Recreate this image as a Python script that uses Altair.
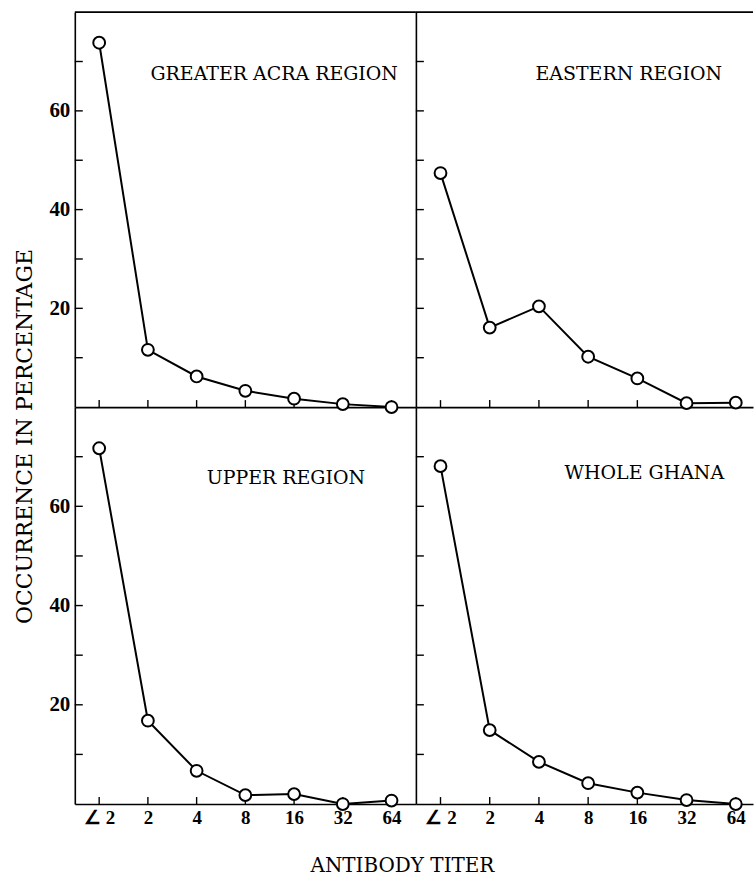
import json
import altair as alt
import pandas as pd

# ---- data ----
TITERS = ["∠ 2", "2", "4", "8", "16", "32", "64"]
REGIONS = ["GREATER ACRA REGION", "EASTERN REGION", "UPPER REGION", "WHOLE GHANA"]
GREATER_ACRA = [73.8, 11.6, 6.2, 3.3, 1.7, 0.6, 0.0]
EASTERN = [47.4, 16.1, 20.4, 10.2, 5.8, 0.8, 0.9]
UPPER = [71.7, 16.8, 6.7, 1.8, 2.0, 0.0, 0.7]
WHOLE_GHANA = [68.1, 14.9, 8.5, 4.2, 2.3, 0.8, 0.0]
Y_TICKS = [10, 20, 30, 40, 50, 60, 70]
Y_LABELED = [20, 40, 60]
Y_TITLE = "OCCURRENCE  IN  PERCENTAGE"
X_TITLE = "ANTIBODY  TITER"

SERIF = "DejaVu Serif"
LABEL_FONT = "Liberation Serif"
LW = 1.6

label_expr = json.dumps(TITERS, ensure_ascii=False) + "[datum.value]"


def panel(values, title, width, height, xmax, left, bottom, title_x, title_y, top_rule):
    df = pd.DataFrame({"i": list(range(len(TITERS))), "v": values})
    xscale = alt.Scale(domain=[-0.5, xmax], nice=False, zero=False)
    yscale = alt.Scale(domain=[0, 80], nice=False, zero=False)

    xkw = dict(ticks=False, grid=False, domain=True, domainColor="black",
               domainWidth=LW, values=list(range(len(TITERS))))
    if bottom:
        xkw.update(labels=True, labelExpr=label_expr, labelFont=LABEL_FONT,
                   labelFontSize=19, labelFontWeight="bold", labelColor="black",
                   labelPadding=5, labelAngle=0)
        if left:
            xkw.update(title=X_TITLE, titleX=328, titleY=62, titleAlign="center",
                       titleBaseline="middle", titleFont=SERIF, titleFontSize=20,
                       titleFontWeight="normal", titleColor="black")
        else:
            xkw.update(title=None)
    else:
        xkw.update(labels=False, title=None)
    xaxis = alt.Axis(**xkw)

    ykw = dict(ticks=False, grid=False, domain=True, domainColor="black",
               domainWidth=LW, values=Y_LABELED)
    if left:
        ykw.update(labels=True, labelFont=LABEL_FONT, labelFontSize=21,
                   labelFontWeight="bold", labelColor="black", labelPadding=5)
        if bottom:
            ykw.update(title=Y_TITLE, titleX=-50, titleY=29, titleAngle=270,
                       titleAlign="center", titleBaseline="middle", titleFont=SERIF,
                       titleFontSize=22, titleFontWeight="normal", titleColor="black")
        else:
            ykw.update(title=None)
    else:
        ykw.update(labels=False, title=None)
    yaxis = alt.Axis(**ykw)

    X = alt.X("i:Q", scale=xscale, axis=xaxis)
    Y = alt.Y("v:Q", scale=yscale, axis=yaxis)

    base = alt.Chart(df)
    line = base.mark_line(color="black", strokeWidth=2).encode(x=X, y=Y)
    pts = base.mark_point(shape="circle", filled=True, fill="white", stroke="black",
                          strokeWidth=2, size=140, opacity=1).encode(x=X, y=Y)

    yt = alt.Chart(pd.DataFrame({"v": Y_TICKS})).mark_rule(
        color="black", strokeWidth=1.4).encode(y=Y, x=alt.value(0), x2=alt.value(8))
    xt = alt.Chart(pd.DataFrame({"i": list(range(len(TITERS)))})).mark_rule(
        color="black", strokeWidth=1.4).encode(x=X, y=alt.value(height), y2=alt.value(height - 7))

    ttl = alt.Chart(pd.DataFrame({"t": [title]})).mark_text(
        align="right", baseline="middle", font=SERIF, fontSize=19, color="black"
    ).encode(text="t:N", x=alt.value(title_x), y=alt.value(title_y))

    layers = [yt, xt, line, pts, ttl]
    if top_rule:
        layers.append(alt.Chart(pd.DataFrame({"t": [0]})).mark_rule(
            color="black", strokeWidth=LW).encode(
            x=alt.value(0), x2=alt.value(width), y=alt.value(0)))
    return alt.layer(*layers).properties(width=width, height=height)


p1 = panel(GREATER_ACRA, REGIONS[0], 342, 396, 6.5, True, False, 324, 62, True)
p2 = panel(EASTERN, REGIONS[1], 338, 396, 6.35, False, False, 307, 62, True)
p3 = panel(UPPER, REGIONS[2], 342, 398, 6.5, True, True, 291, 71, False)
p4 = panel(WHOLE_GHANA, REGIONS[3], 338, 398, 6.35, False, True, 309, 66, False)

chart = alt.concat(p1, p2, p3, p4, columns=2, spacing=0, bounds="flush").properties(
    padding={"left": 13, "top": 10, "right": 0, "bottom": 2},
    background="white",
).configure_view(stroke=None)

chart.save("out.html", embed_options={"renderer": "svg", "actions": False})
